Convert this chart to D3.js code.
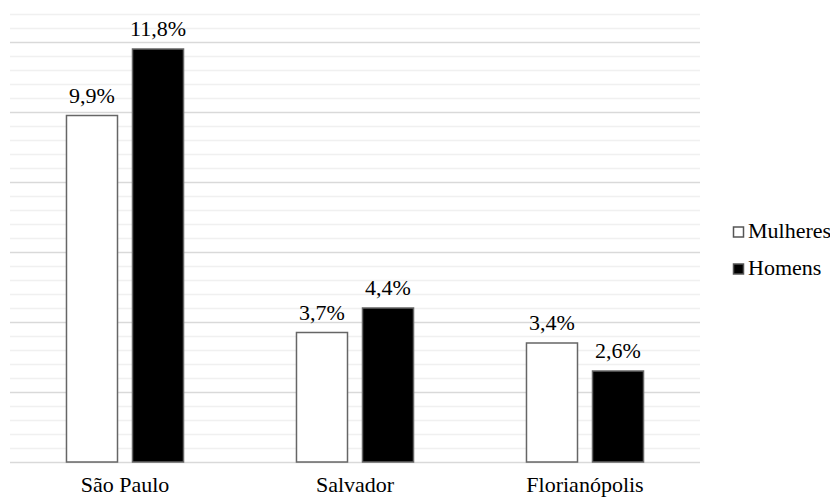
<!DOCTYPE html>
<html><head><meta charset="utf-8">
<script src="https://cdn.jsdelivr.net/npm/d3@7"></script>
</head><body style="margin:0">
<svg id="c" width="830" height="497"></svg>
<script>
const categories = ["São Paulo", "Salvador", "Florianópolis"];
const seriesNames = ["Mulheres", "Homens"];
const mulheres = [9.9, 3.7, 3.4];
const homens = [11.8, 4.4, 2.6];
const valueLabels = [["9,9%", "3,7%", "3,4%"], ["11,8%", "4,4%", "2,6%"]];
const yMax = 12.8, majorStep = 2, minorStep = 0.4;

(function () {
const svg = d3.select("#c");
const FONT = '"Liberation Serif", monospace';
const FS = 22;
const pLeft = 10, pRight = 700, pTop = 14, pBottom = 462;
const x = d3.scaleBand().domain(categories).range([pLeft, pRight]).paddingInner(0).paddingOuter(0);
const y = d3.scaleLinear().domain([0, yMax]).range([pBottom, pTop]);

const isMajor = d => Math.abs(d / majorStep - Math.round(d / majorStep)) < 1e-6;
const minorTicks = d3.range(0, Math.round(yMax / minorStep) + 1).map(i => +(i * minorStep).toFixed(2));
minorTicks.forEach(d => {
  svg.append("line")
    .attr("x1", pLeft).attr("x2", pRight)
    .attr("y1", Math.round(y(d)) + 0.5).attr("y2", Math.round(y(d)) + 0.5)
    .attr("stroke", isMajor(d) ? "#d9d9d9" : "#f0f0f0")
    .attr("stroke-width", 1.5);
});

const xs = d3.scaleBand().domain(seriesNames).range([0, x.bandwidth()]).paddingInner(0.212).paddingOuter(0.848);
const data = [mulheres, homens];
const fills = ["#ffffff", "#000000"];

seriesNames.forEach((s, si) => {
  data[si].forEach((v, i) => {
    svg.append("rect")
      .attr("x", x(categories[i]) + xs(s) + 0.5)
      .attr("y", y(v))
      .attr("width", xs.bandwidth() - 1)
      .attr("height", pBottom - y(v))
      .attr("fill", fills[si]).attr("stroke", "#666").attr("stroke-width", 1.5);
    svg.append("text")
      .attr("x", x(categories[i]) + xs(s) + xs.bandwidth() / 2)
      .attr("y", y(v) - 13)
      .attr("text-anchor", "middle").attr("fill", "#000").attr("font-size", FS)
      .style("font-family", FONT)
      .text(valueLabels[si][i]);
  });
});

categories.forEach(c => {
  svg.append("text")
    .attr("x", x(c) + x.bandwidth() / 2)
    .attr("y", pBottom + 30)
    .attr("text-anchor", "middle").attr("fill", "#000").attr("font-size", FS)
    .style("font-family", FONT)
    .text(c);
});

seriesNames.forEach((s, i) => {
  const ly = 232 + i * 37;
  svg.append("rect").attr("x", 733.5).attr("y", ly - 5).attr("width", 10).attr("height", 10)
    .attr("fill", fills[i]).attr("stroke", "#555").attr("stroke-width", 1.5);
  svg.append("text").attr("x", 748).attr("y", ly + 6).attr("fill", "#000").attr("font-size", FS)
    .style("font-family", FONT).text(s);
});
})();
</script>
</body></html>
